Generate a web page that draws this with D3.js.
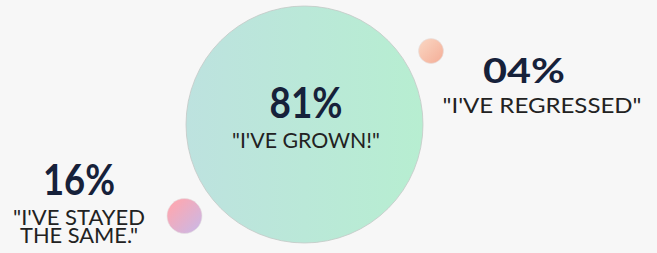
<!DOCTYPE html>
<html>
<head>
<meta charset="utf-8">
<script src="https://cdn.jsdelivr.net/npm/d3@7"></script>
<style>
  html, body { margin: 0; padding: 0; background: #f7f7f7; }
  svg { display: block; }
  text { font-family: Lato, "Open Sans", sans-serif; }
</style>
</head>
<body>
<div id="chart"></div>
<script>
// survey answers
const answers = ['"I\'VE GROWN!"', '"I\'VE STAYED|THE SAME."', '"I\'VE REGRESSED"'];
const shares = [81, 16, 4];
const shareLabels = ["81%", "16%", "04%"];

const width = 657, height = 253;

// bubble + label placement, one entry per answer
const layout = [
    {cx: 304.5, cy: 124.5, tx: 306, ty: 118, numSize: 42, numW: 73, lineW: [148], grad: ["#bde2df", "#b7eed1"]},
    {cx: 184.5, cy: 216, tx: 79, ty: 195, numSize: 42, numW: 72, lineW: [132, 118], grad: ["#f9a9b5", "#d0b6e0"]},
    {cx: 431, cy: 51, tx: 524, ty: 83, numSize: 34, numW: 82, lx: 542, lineW: [199], grad: ["#f9cfbb", "#f5b39d"]}
];

let r = d3.scaleLinear()
    .domain([4, 16, 81])
    .range([12.5, 17.5, 118.5]);

let svg = d3.select("#chart").append("svg")
    .attr("width", width)
    .attr("height", height);

let defs = svg.append("defs");

layout.forEach((l, i) => {
    let g = defs.append("linearGradient")
        .attr("id", "grad" + i)
        .attr("x1", i == 0 ? "0%" : "20%").attr("y1", i == 0 ? "0%" : "20%")
        .attr("x2", i == 0 ? "100%" : "85%").attr("y2", i == 0 ? "0%" : "85%");
    g.append("stop").attr("offset", "0%").attr("stop-color", l.grad[0]);
    g.append("stop").attr("offset", "100%").attr("stop-color", l.grad[1]);
});

defs.append("filter").attr("id", "soft")
  .append("feGaussianBlur").attr("stdDeviation", 0.4);

svg.selectAll(".bubble")
    .data(shares)
  .enter().append("circle")
    .attr("class", "bubble")
    .attr("cx", (d, i) => layout[i].cx)
    .attr("cy", (d, i) => layout[i].cy)
    .attr("r", d => r(d))
    .attr("fill", (d, i) => "url(#grad" + i + ")")
    .attr("stroke", (d, i) => i == 0 ? "#c4c9c6" : "#e4e0e0")
    .attr("stroke-width", (d, i) => i == 0 ? 0.8 : 0.6)
    .attr("filter", "url(#soft)");

// big numbers
svg.selectAll(".num")
    .data(shareLabels)
  .enter().append("text")
    .attr("class", "num")
    .attr("x", (d, i) => layout[i].tx)
    .attr("y", (d, i) => layout[i].ty)
    .attr("text-anchor", "middle")
    .attr("font-size", (d, i) => layout[i].numSize)
    .attr("font-weight", 700)
    .attr("fill", "#16213a")
    .attr("textLength", (d, i) => layout[i].numW)
    .attr("lengthAdjust", "spacingAndGlyphs")
    .text(d => d);

// quoted answers, split on | into lines
answers.forEach((a, i) => {
    a.split("|").forEach((line, j) => {
        svg.append("text")
            .attr("class", "answer")
            .attr("text-anchor", "middle")
            .attr("font-size", 21)
            .attr("fill", "#222")
            .attr("x", layout[i].lx || layout[i].tx)
            .attr("y", layout[i].ty + 30 + j * 18)
            .attr("textLength", layout[i].lineW[j])
            .attr("lengthAdjust", "spacingAndGlyphs")
            .text(line);
    });
});
</script>
</body>
</html>
